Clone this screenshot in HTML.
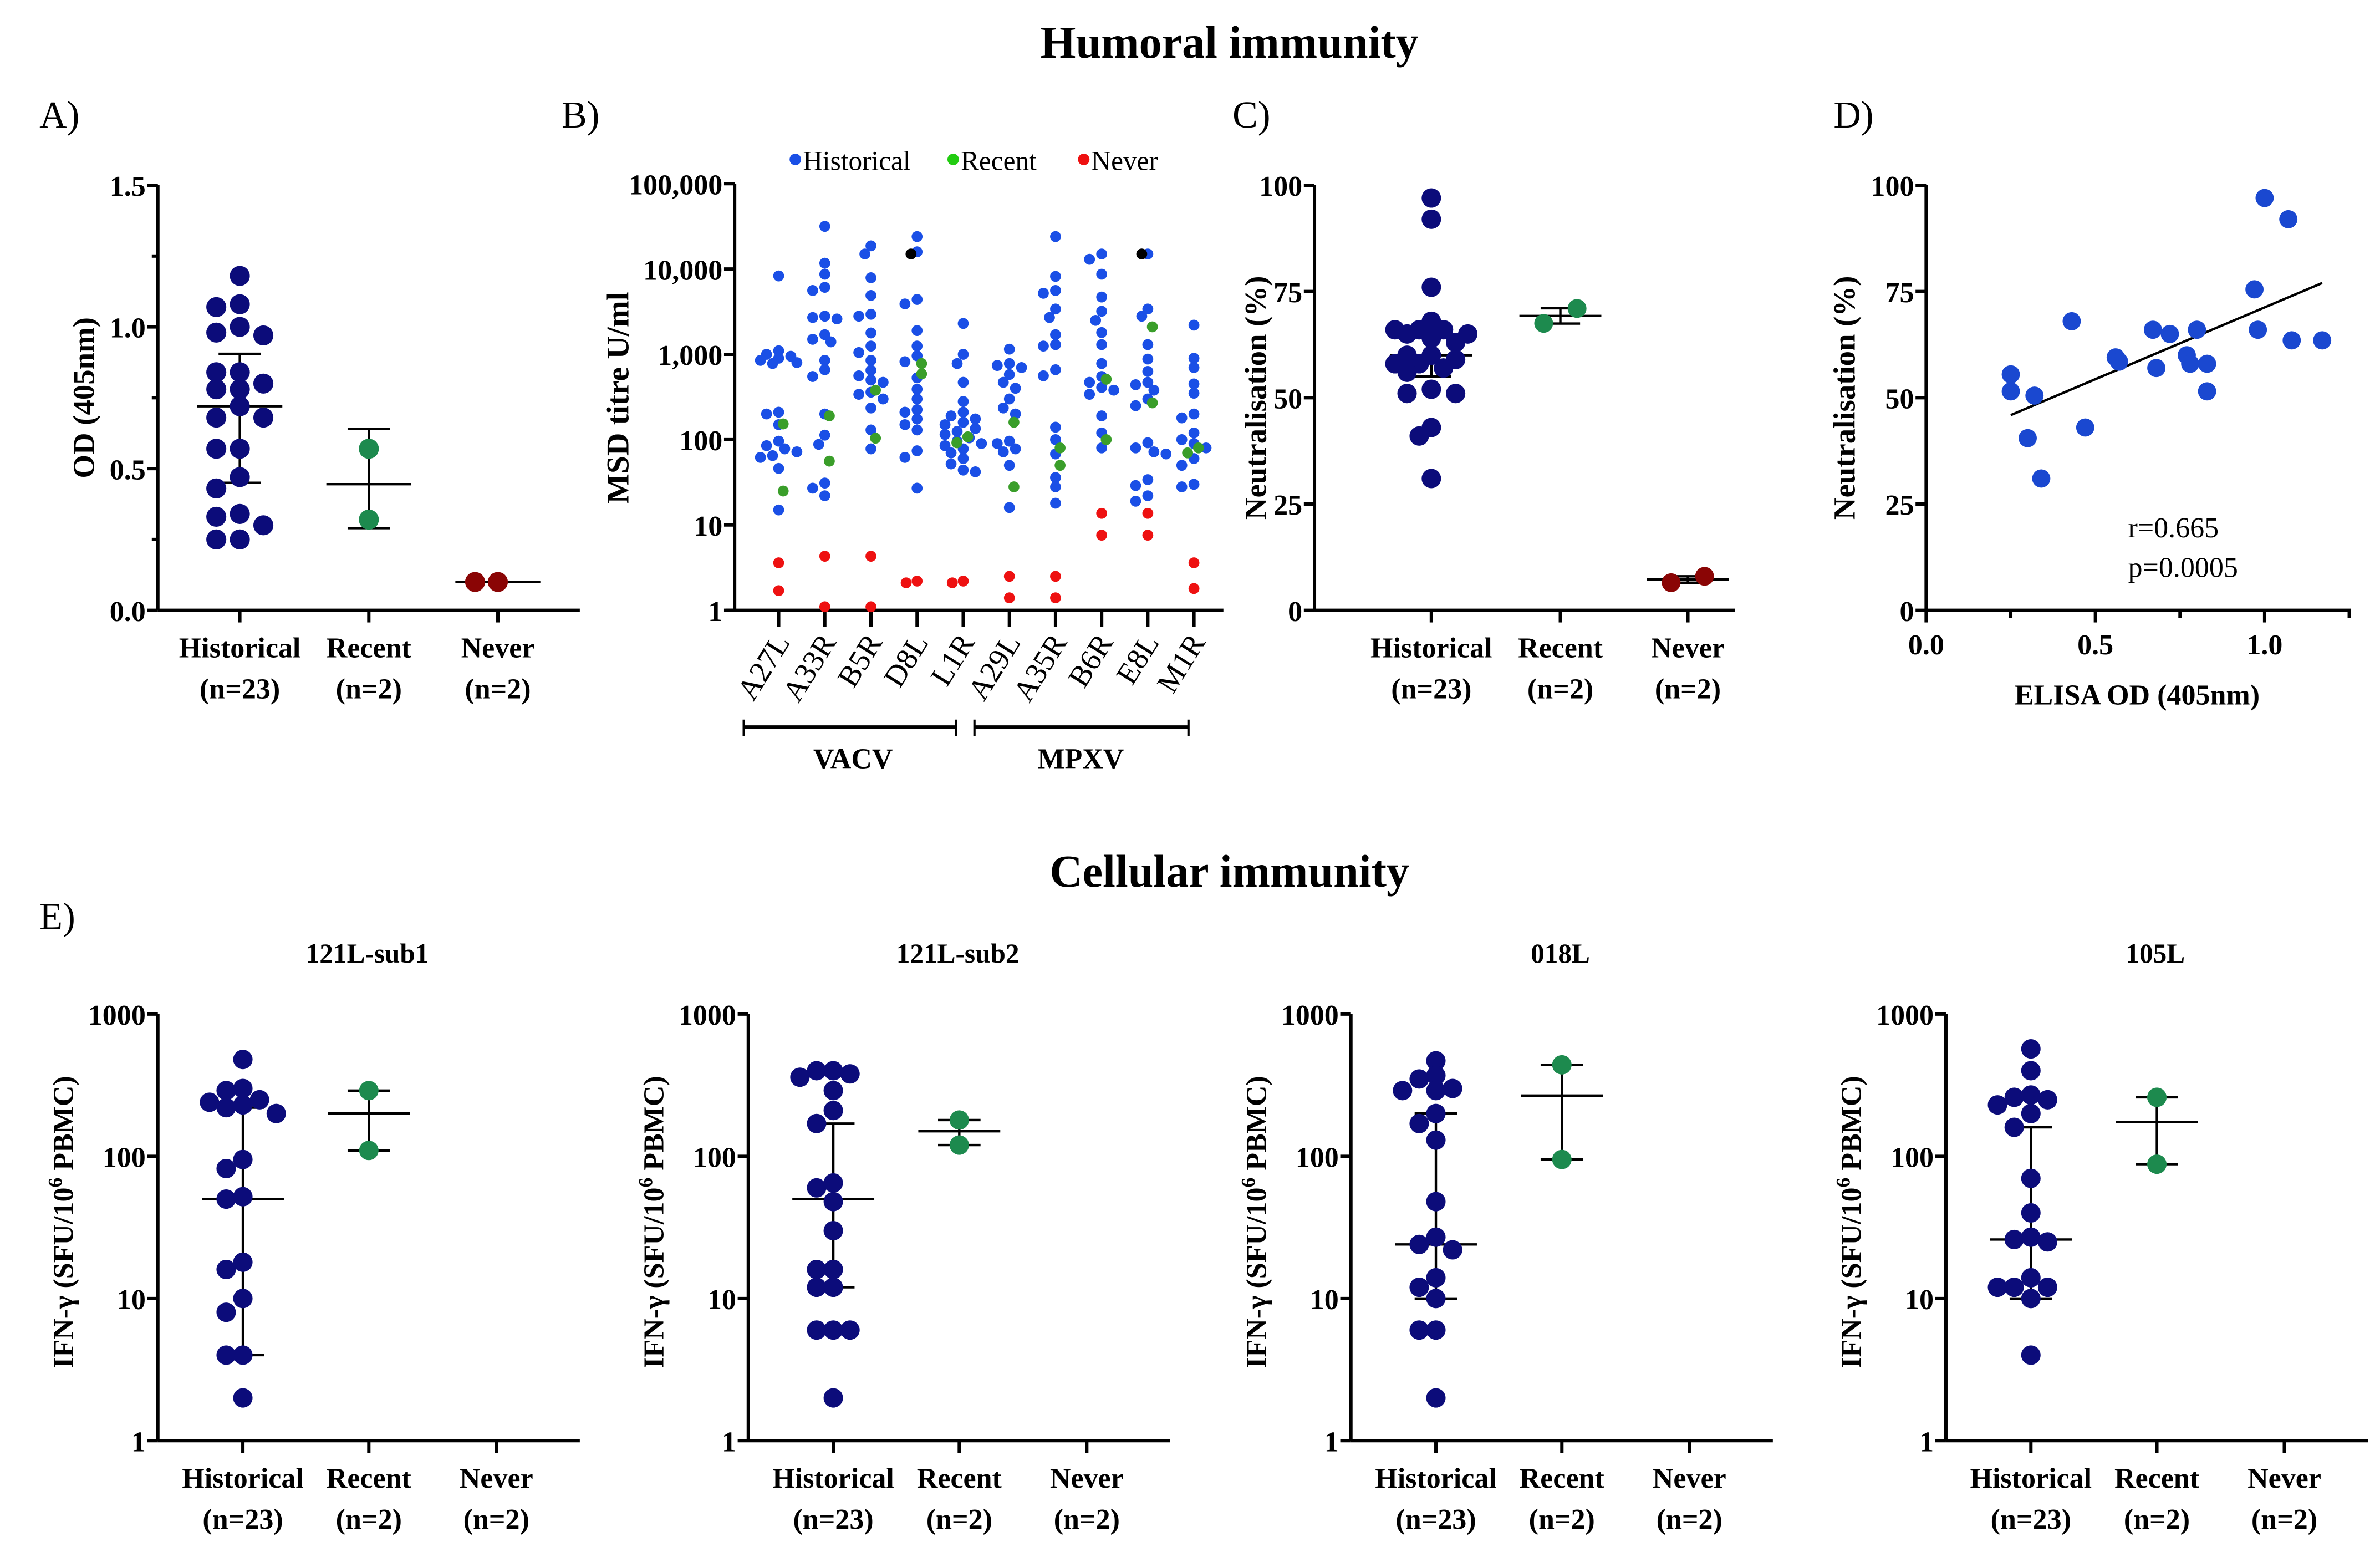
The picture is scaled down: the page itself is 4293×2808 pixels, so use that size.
<!DOCTYPE html>
<html><head><meta charset="utf-8">
<style>
html,body{margin:0;padding:0;background:#fff;}
svg{display:block;font-family:"Liberation Serif",serif;}
.tk{font-weight:bold;font-size:19px;}
.ax{stroke:#000;stroke-width:2.2;fill:none;}
.eb{stroke:#000;stroke-width:1.6;fill:none;}
</style></head>
<body>
<svg id="fig" width="4293" height="2808" viewBox="0 0 1568 1025.6" preserveAspectRatio="none" xmlns="http://www.w3.org/2000/svg">
<text x="810" y="38" text-anchor="middle" font-size="30" font-weight="bold">Humoral immunity</text>
<text x="810" y="584" text-anchor="middle" font-size="30" font-weight="bold">Cellular immunity</text>
<text x="26" y="84" font-size="25">A)</text>
<text x="370" y="84" font-size="25">B)</text>
<text x="812" y="84" font-size="25">C)</text>
<text x="1208" y="84" font-size="25">D)</text>
<text x="26" y="612" font-size="25">E)</text>
</svg>
<script>
// ---------- DATA ----------
const groupLabels = ["Historical", "Recent", "Never"];
const groupN = ["(n=23)", "(n=2)", "(n=2)"];
// Panel A (OD)
const odHist = [1.18,1.08,1.07,0.98,0.97,1.0,0.84,0.84,0.80,0.78,0.78,0.72,0.68,0.68,0.57,0.57,0.47,0.43,0.34,0.33,0.30,0.25,0.25];
const odRecent = [0.57,0.32];
const odNever = [0.1,0.1];
const odTicks = [0.0,0.5,1.0,1.5];
// Panel C (neutralisation)
const neutHist = [97,92,76,68,66,66,66,65,65,64,63,60,60,59,58,58,57,56,52,51,51,43,41,31];
const neutRecent = [67.5,71];
const neutNever = [6.5,8];
const neutTicks = [0,25,50,75,100];
// Panel D (correlation)
const corrOD = [0.25,0.25,0.32,0.30,0.34,0.43,0.47,0.56,0.57,0.67,0.68,0.72,0.77,0.78,0.80,0.83,0.83,0.97,0.98,1.00,1.07,1.08,1.17];
const corrNeut = [55.5,51.5,50.5,40.5,31,68,43,59.5,58.5,66,57,65,60,58,66,58,51.5,75.5,66,97,92,63.5,63.5];
const corrXTicks = [0.0,0.5,1.0];
// Panel B (MSD)
const antigens = ["A27L","A33R","B5R","D8L","L1R","A29L","A35R","B6R","E8L","M1R"];
const msdHist = [
 [8300,1100,1000,950,900,850,800,780,210,200,150,96,85,78,72,65,62,46,15],
 [31600,11700,8700,6100,5600,2800,2700,2600,1700,1500,1400,850,660,550,200,113,88,31,27,22],
 [18700,15000,7900,4900,2950,2800,1780,1250,1050,850,650,560,500,470,360,340,300,235,130,78],
 [24000,15900,4400,3900,1900,1250,960,820,530,390,300,225,210,175,150,130,74,62,27],
 [2300,1000,780,470,280,210,190,175,160,150,135,125,115,105,96,90,85,78,70,60,52,44,42],
 [1150,780,740,700,580,470,400,300,235,200,96,90,78,72,50,16],
 [24000,8200,5600,5200,3400,2700,1700,1300,1250,660,560,140,100,68,36,28,18],
 [15000,13000,8700,4700,3200,2500,1800,1300,780,550,470,410,380,340,190,120,80],
 [15000,3400,2800,1300,880,630,470,440,380,300,250,92,80,72,68,34,29,22,19],
 [2200,900,700,450,350,200,180,120,100,90,80,60,50,30,28]
];
const msdBlack = [null,null,null,15000,null,null,null,null,15000,null];
const msdRecent = [[153,25],[190,56],[380,104],[780,590],[108,92],[160,28],[80,50],[510,100],[2100,270],[80,70]];
const msdNever = [[3.6,1.7],[4.3,1.1],[4.3,1.1],[2.1,2.2],[2.1,2.2],[2.5,1.4],[2.5,1.4],[13.7,7.6],[13.7,7.6],[3.6,1.8]];
const msdTicks = [1,10,100,1000,10000,100000];
const msdTickLabels = ["1","10","100","1,000","10,000","100,000"];
// Panel E (IFN-g)
const elispotTitles = ["121L-sub1","121L-sub2","018L","105L"];
const elispotHist = [
 [480,300,290,230,250,220,240,200,95,82,52,50,18,16,10,8,4,4,2],
 [400,400,380,360,290,210,170,65,60,48,30,16,16,12,12,6,6,6,2],
 [470,370,350,300,290,290,200,170,130,48,27,24,22,14,12,10,6,6,2],
 [570,400,270,260,250,230,200,160,70,40,26,25,27,14,12,12,12,10,4]
];
const elispotMed = [50,50,24,26];
const elispotQ1 = [4,12,10,10];
const elispotQ3 = [220,170,200,160];
const elispotRecent = [[290,110],[180,120],[440,95],[260,88]];
const elispotTicks = [1,10,100,1000];

// ---------- HELPERS ----------
const NS = "http://www.w3.org/2000/svg";
const svg = document.getElementById("fig");
function mk(tag, attrs, parent, txt){
  const e = document.createElementNS(NS, tag);
  for (const k in attrs) e.setAttribute(k, attrs[k]);
  if (txt !== undefined) e.textContent = txt;
  (parent||svg).appendChild(e);
  return e;
}
function grp(name){
  const g = document.createElementNS(NS,"g");
  
  
  svg.appendChild(g);
  return g;
}
function swarm(ys, r, step, fac, maxOff){
  const order = ys.map((y,i)=>i).sort((a,b)=>ys[a]-ys[b]);
  const placed = []; const off = new Array(ys.length).fill(0);
  const md = 2*r*(fac||0.75);
  const lim = maxOff===undefined ? 1e9 : maxOff;
  for (const i of order){
    let best=0, bestD=-1, done=false;
    for (let k=0;k<40;k++){
      const o = (k%2===0?1:-1)*Math.ceil(k/2)*step;
      if (Math.abs(o)>lim+1e-6) break;
      let minD = 1e9;
      for (const p of placed){ const dx=p.x-o, dy=p.y-ys[i]; minD=Math.min(minD, Math.sqrt(dx*dx+dy*dy)); }
      if (minD >= md){ best=o; done=true; break; }
      if (minD > bestD){ bestD=minD; best=o; }
    }
    off[i]=best; placed.push({x:best,y:ys[i]});
  }
  return off;
}
function dots(g, cx, vals, ys, r, color, name, step, fac, maxOff){
  const ypix = vals.map(ys);
  const off = swarm(ypix, r, step||r*1.0, fac, maxOff);
  vals.forEach((v,i)=>{
    const c = mk("circle",{cx:cx+off[i],cy:ypix[i],r:r,fill:color},g);
    
    
  });
}
function errbar(g, cx, mid, lo, hi, w1, w2){
  mk("line",{x1:cx,x2:cx,y1:lo,y2:hi,class:"eb"},g);
  mk("line",{x1:cx-w1,x2:cx+w1,y1:mid,y2:mid,class:"eb"},g);
  mk("line",{x1:cx-w2,x2:cx+w2,y1:lo,y2:lo,class:"eb"},g);
  mk("line",{x1:cx-w2,x2:cx+w2,y1:hi,y2:hi,class:"eb"},g);
}
function median(a){const s=[...a].sort((x,y)=>x-y);const n=s.length;return n%2?s[(n-1)/2]:(s[n/2-1]+s[n/2])/2;}
function quant(a,q){const s=[...a].sort((x,y)=>x-y);const p=(s.length-1)*q;const f=Math.floor(p);return s[f]+(s[Math.min(f+1,s.length-1)]-s[f])*(p-f);}
function mean(a){return a.reduce((x,y)=>x+y,0)/a.length;}
function catAxis(g, x0, x1, yb, cats, labY){
  mk("line",{x1:x0,x2:x1,y1:yb,y2:yb,class:"ax"},g);
  cats.forEach((cx,i)=>{
    mk("line",{x1:cx,x2:cx,y1:yb,y2:yb+8,class:"ax"},g);
    const t1 = mk("text",{x:cx,y:labY,"text-anchor":"middle",class:"tk"},g,groupLabels[i]);
    
    
    const t2 = mk("text",{x:cx,y:labY+27,"text-anchor":"middle",class:"tk"},g,groupN[i]);
    
    
  });
}
function yAxisLabel(g, x, y, txt, name, size){
  const t = mk("text",{x:x,y:y,"text-anchor":"middle","font-weight":"bold","font-size":size||20,transform:`rotate(-90 ${x} ${y})`},g);
  t.innerHTML = txt;
  
  
}
const NAVY="#0c0c7a", GREEN="#1d8a4e", DRED="#8a0505";

// ---------- PANEL A ----------
(function(){
  const g = grp("panel-a-od-chart");
  const ax=104, top=122, bot=402, vmax=1.5;
  const y = v => bot - v/vmax*(bot-top);
  mk("line",{x1:ax,x2:ax,y1:top,y2:bot,class:"ax"},g);
  for (let v=0; v<=1.5001; v+=0.25){
    const major = Math.abs(v*2-Math.round(v*2))<1e-6;
    mk("line",{x1:ax-(major?7:4),x2:ax,y1:y(v),y2:y(v),class:"ax"},g);
  }
  odTicks.forEach(v=>{ const t=mk("text",{x:ax-8,y:y(v)+7,"text-anchor":"end",class:"tk"},g,v.toFixed(1));
      });
  const cats=[158,243,328];
  catAxis(g, ax, 382, bot, cats, 433);
  yAxisLabel(g, 62, 262, "OD (405nm)", "y-axis-title-od");
  errbar(g, cats[0], y(median(odHist)), y(quant(odHist,0.25)), y(quant(odHist,0.75)), 28, 14);
  const rm=mean(odRecent);
  errbar(g, cats[1], y(rm), y(Math.min(...odRecent)-0.03), y(Math.max(...odRecent)+0.07), 28, 14);
  mk("line",{x1:cats[2]-28,x2:cats[2]+28,y1:y(mean(odNever)),y2:y(mean(odNever)),class:"eb"},g);
  dots(g,cats[0],odHist,y,6.6,NAVY,"dot-historical",15.5,0.8,31);
  dots(g,cats[1],odRecent,y,6.6,GREEN,"dot-recent");
  dots(g,cats[2],odNever,y,6.6,DRED,"dot-never",15);
})();

// ---------- PANEL B ----------
(function(){
  const g = grp("panel-b-msd-chart");
  const ax=484, top=121, bot=402;
  const y = v => bot - Math.log10(v)/5*(bot-top);
  mk("line",{x1:ax,x2:ax,y1:top,y2:bot,class:"ax"},g);
  mk("line",{x1:ax-6,x2:806,y1:bot,y2:bot,class:"ax"},g);
  msdTicks.forEach((v,i)=>{
    mk("line",{x1:ax-7,x2:ax,y1:y(v),y2:y(v),class:"ax"},g);
    const t=mk("text",{x:ax-8,y:y(v)+7,"text-anchor":"end",class:"tk"},g,msdTickLabels[i]);
     
  });
  yAxisLabel(g, 414, 262, "MSD titre U/ml", "y-axis-title-msd", 21);
  const x0=513, dx=30.4;
  antigens.forEach((a,i)=>{
    const cx = x0 + i*dx;
    mk("line",{x1:cx,x2:cx,y1:bot,y2:bot+11,class:"ax"},g);
    const t=mk("text",{x:cx+8,y:bot+21,"text-anchor":"end","font-size":20,transform:`rotate(-58 ${cx+8} ${bot+21})`},g,a);
     
    dots(g,cx,msdHist[i],y,3.6,"#1a4fe6","dot-historical",4,0.85,12);
    if (msdBlack[i]!==null) dots(g,cx-4,[msdBlack[i]],y,3.6,"#000","dot-outlier");
    dots(g,cx+3,msdRecent[i],y,3.6,"#3a9e2a","dot-recent");
    dots(g,cx,msdNever[i],y,3.6,"#ee1111","dot-never",3.6);
  });
  const leg=[["Historical","#1a4fe6",524],["Recent","#22cc11",628],["Never","#ee1111",714]];
  leg.forEach(l=>{
    const c=mk("circle",{cx:l[2],cy:105,r:3.8,fill:l[1]},g);
     
    const t=mk("text",{x:l[2]+5,y:112,"font-size":18},g,l[0]);
     
  });
  [[490,630,"VACV",562],[642,783,"MPXV",712]].forEach(b=>{
    mk("line",{x1:b[0],x2:b[1],y1:479,y2:479,stroke:"#000","stroke-width":2.4},g);
    mk("line",{x1:b[0],x2:b[0],y1:474,y2:485,stroke:"#000","stroke-width":1.5},g);
    mk("line",{x1:b[1],x2:b[1],y1:474,y2:485,stroke:"#000","stroke-width":1.5},g);
    const t=mk("text",{x:b[3],y:506,"text-anchor":"middle","font-size":19,"font-weight":"bold"},g,b[2]);
     
  });
})();

// ---------- PANEL C ----------
(function(){
  const g = grp("panel-c-neutralisation-chart");
  const ax=866, top=122, bot=402;
  const y = v => bot - v/100*(bot-top);
  mk("line",{x1:ax,x2:ax,y1:top,y2:bot,class:"ax"},g);
  neutTicks.forEach(v=>{
    mk("line",{x1:ax-7,x2:ax,y1:y(v),y2:y(v),class:"ax"},g);
    const t=mk("text",{x:ax-8,y:y(v)+7,"text-anchor":"end",class:"tk"},g,String(v));
     
  });
  const cats=[943,1028,1112];
  catAxis(g, ax, 1143, bot, cats, 433);
  yAxisLabel(g, 834, 262, "Neutralisation (%)", "y-axis-title-neutralisation");
  errbar(g, cats[0], y(median(neutHist)), y(quant(neutHist,0.25)), y(quant(neutHist,0.75)), 27, 13);
  errbar(g, cats[1], y(mean(neutRecent)), y(mean(neutRecent)-1.8), y(mean(neutRecent)+1.8), 27, 13);
  errbar(g, cats[2], y(mean(neutNever)), y(mean(neutNever)-0.75), y(mean(neutNever)+0.75), 27, 13);
  dots(g,cats[0],neutHist,y,6.4,NAVY,"dot-historical",8,0.72,32);
  mk("circle",{cx:cats[1]-11,cy:y(neutRecent[0]),r:6.2,fill:GREEN,},g);
  mk("circle",{cx:cats[1]+11,cy:y(neutRecent[1]),r:6.2,fill:GREEN,},g);
  mk("circle",{cx:cats[2]-11,cy:y(neutNever[0]),r:6.2,fill:DRED,},g);
  mk("circle",{cx:cats[2]+11,cy:y(neutNever[1]),r:6.2,fill:DRED,},g);
})();

// ---------- PANEL D ----------
(function(){
  const g = grp("panel-d-correlation-chart");
  const ax=1269, top=122, bot=402, xr=1549;
  const y = v => bot - v/100*(bot-top);
  const x = v => ax + v*223;
  mk("line",{x1:ax,x2:ax,y1:top,y2:bot,class:"ax"},g);
  mk("line",{x1:ax,x2:xr,y1:bot,y2:bot,class:"ax"},g);
  neutTicks.forEach(v=>{
    mk("line",{x1:ax-7,x2:ax,y1:y(v),y2:y(v),class:"ax"},g);
    const t=mk("text",{x:ax-8,y:y(v)+7,"text-anchor":"end",class:"tk"},g,String(v));
     
  });
  for (let v=0; v<=1.2501; v+=0.25){
    const major = Math.abs(v*2-Math.round(v*2))<1e-6;
    mk("line",{x1:x(v),x2:x(v),y1:bot,y2:bot+(major?8:5),class:"ax"},g);
  }
  corrXTicks.forEach(v=>{ const t=mk("text",{x:x(v),y:bot+29,"text-anchor":"middle",class:"tk"},g,v.toFixed(1));
      });
  const xt=mk("text",{x:1408,y:464,"text-anchor":"middle",class:"tk"},g,"ELISA OD (405nm)");
   
  yAxisLabel(g, 1222, 262, "Neutralisation (%)", "y-axis-title-neutralisation");
  const mx=mean(corrOD), my=mean(corrNeut);
  let sxy=0,sxx=0; corrOD.forEach((v,i)=>{sxy+=(v-mx)*(corrNeut[i]-my); sxx+=(v-mx)**2;});
  const b=sxy/sxx, a=my-b*mx;
  const xa=Math.min(...corrOD), xb=Math.max(...corrOD);
  const ln=mk("line",{x1:x(xa),y1:y(a+b*xa),x2:x(xb),y2:y(a+b*xb),stroke:"#000","stroke-width":1.6},g);
   
  corrOD.forEach((v,i)=>{
    const c=mk("circle",{cx:x(v),cy:y(corrNeut[i]),r:6,fill:"#1a48d0"},g);
     
  });
  const t1=mk("text",{x:1402,y:354,"font-size":19},g,"r=0.665");
   
  const t2=mk("text",{x:1402,y:380,"font-size":19},g,"p=0.0005");
   
})();

// ---------- PANEL E ----------
const eOffsets=[0,389,786,1178];
elispotTitles.forEach((title,p)=>{
  const g = grp("panel-e-"+title.toLowerCase()+"-chart");
  const o=eOffsets[p];
  const ax=104+o, top=668, bot=949;
  const y = v => bot - Math.log10(v)/3*(bot-top);
  mk("line",{x1:ax,x2:ax,y1:top,y2:bot,class:"ax"},g);
  elispotTicks.forEach(v=>{
    mk("line",{x1:ax-7,x2:ax,y1:y(v),y2:y(v),class:"ax"},g);
    const t=mk("text",{x:ax-8,y:y(v)+7,"text-anchor":"end",class:"tk"},g,String(v));
     
  });
  const cats=[160+o,243+o,327+o];
  catAxis(g, ax, 382+o, bot, cats, 980);
  const tt=mk("text",{x:242+o,y:634,"text-anchor":"middle","font-size":18,"font-weight":"bold"},g,title);
   
  yAxisLabel(g, 48+o, 805, "IFN-γ (SFU/10<tspan baseline-shift='super' font-size='13'>6</tspan> PBMC)", "y-axis-title-ifn", 19);
  errbar(g, cats[0], y(elispotMed[p]), y(elispotQ1[p]), y(elispotQ3[p]), 27, 14);
  const rv=elispotRecent[p];
  errbar(g, cats[1], y(mean(rv)), y(Math.min(...rv)), y(Math.max(...rv)), 27, 14);
  dots(g,cats[0],elispotHist[p],y,6.4,NAVY,"dot-historical",11,0.72,33);
  dots(g,cats[1],rv,y,6.4,GREEN,"dot-recent");
});
</script>
</body></html>
